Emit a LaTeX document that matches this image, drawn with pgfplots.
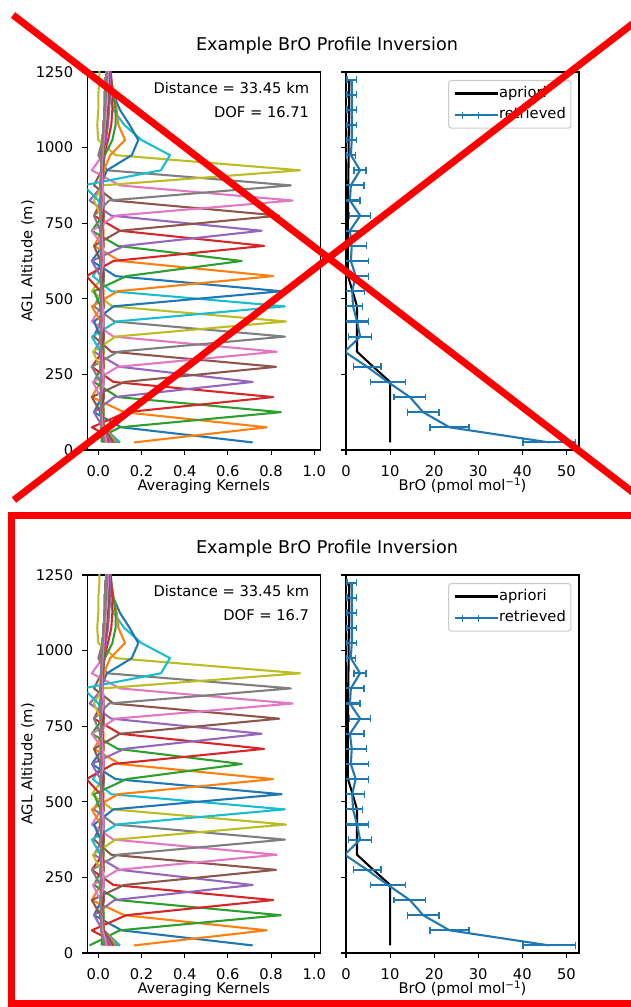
\documentclass[border=0pt]{standalone}
\usepackage{fontspec}
\setmainfont{DejaVu Sans}
\usepackage{pgfplots}
\usepackage{pgfplotstable}
\pgfplotsset{compat=1.18}
\definecolor{c0}{HTML}{1F77B4}
\definecolor{c1}{HTML}{FF7F0E}
\definecolor{c2}{HTML}{2CA02C}
\definecolor{c3}{HTML}{D62728}
\definecolor{c4}{HTML}{9467BD}
\definecolor{c5}{HTML}{8C564B}
\definecolor{c6}{HTML}{E377C2}
\definecolor{c7}{HTML}{7F7F7F}
\definecolor{c8}{HTML}{BCBD22}
\definecolor{c9}{HTML}{17BECF}
\definecolor{lgedge}{rgb}{0.8,0.8,0.8}
\newcommand\tickf{\fontsize{14.7bp}{17.6bp}\selectfont}
\newcommand\titlef{\fontsize{17.6bp}{21bp}\selectfont}
\newcommand\supm{\raisebox{0.33em}{\fontsize{10.3bp}{12bp}\selectfont −1}}

\pgfplotstableread{
alt x
25 10
75 10
125 10
175 10
225 10
275 6.2
325 2.5
375 2.5
425 2.5
475 2.5
525 1.5
575 0.45
625 0.4
675 0.4
725 0.4
775 0.45
825 0.5
875 0.5
925 0.55
975 0.6
1025 0.6
1075 0.65
1125 0.7
1175 0.7
1225 0.75
}\apriori

\pgfplotstableread{
alt x err
25 46.15 5.95
75 23.5 4.45
125 17.5 3.6
175 14.5 3.6
225 9.5 4.0
275 4.8 3.1
325 -0.3 0.25
375 3.2 2.65
425 2.5 2.6
475 1.6 2.1
525 1.4 2.75
575 2.2 2.9
625 1.1 3.95
675 1.3 3.4
725 0.9 3.2
775 3.2 2.4
825 0.9 2.3
875 1.1 2.95
925 3.2 1.36
975 1.1 1.0
1025 1.3 1.1
1075 1.3 1.1
1125 1.3 1.1
1175 1.3 1.1
1225 1.3 1.1
}\retrieved

\pgfplotsset{
  panel/.style={scale only axis, width=233bp, height=378bp, ymin=0, ymax=1250,
    ytick={0,250,500,750,1000,1250},
    tick align=outside, tick pos=left, major tick length=4.9bp,
    every tick/.style={black, line width=1.1bp},
    axis line style={black, line width=1.1bp},
    /pgf/number format/assume math mode=true,
    scaled ticks=false,
    tick label style={font=\tickf, inner sep=0bp},
    xticklabel style={anchor=north, yshift=-10.5bp},
    yticklabel style={anchor=east, xshift=-9bp},
    label style={font=\tickf, inner sep=0bp},
    xlabel style={at={(axis description cs:0.5,0)}, anchor=base, yshift=-40.8bp},
  },
  kern/.style={line width=2.08bp, line join=round},
}

\newcommand\kernels{%
\addplot[c0,kern] coordinates {(0.715,25)(0.108,75)(-0.02,125)(0.015,175)(0.02,225)(0.01,275)(0.015,325)(0.02,375)(0.025,425)(0.01,475)(0.015,525)(0.02,575)(0.025,625)(0.01,675)(0.015,725)(0.02,775)(0.025,825)(0.01,875)(0.015,925)(0.02,975)(0.02,1025)(0.025,1075)(0.03,1125)(0.03,1175)(0.035,1225)(0.035,1275)};
\addplot[c1,kern] coordinates {(0.165,25)(0.78,75)(0.12,125)(-0.03,175)(0.01,225)(0.02,275)(0.025,325)(0.01,375)(0.015,425)(0.02,475)(0.025,525)(0.01,575)(0.015,625)(0.02,675)(0.025,725)(0.01,775)(0.015,825)(0.02,875)(0.025,925)(0.02,975)(0.025,1025)(0.03,1075)(0.03,1125)(0.035,1175)(0.04,1225)(0.04,1275)};
\addplot[c2,kern] coordinates {(-0.04,25)(0.10,75)(0.845,125)(0.09,175)(-0.02,225)(0.015,275)(0.02,325)(0.025,375)(0.01,425)(0.015,475)(0.02,525)(0.025,575)(0.01,625)(0.015,675)(0.02,725)(0.025,775)(0.01,825)(0.015,875)(0.02,925)(0.025,975)(0.02,1025)(0.025,1075)(0.03,1125)(0.035,1175)(0.035,1225)(0.04,1275)};
\addplot[c3,kern] coordinates {(0.10,25)(-0.03,75)(0.13,125)(0.81,175)(0.07,225)(-0.03,275)(0.02,325)(0.025,375)(0.01,425)(0.015,475)(0.02,525)(0.025,575)(0.01,625)(0.015,675)(0.02,725)(0.025,775)(0.01,825)(0.015,875)(0.02,925)(0.02,975)(0.025,1025)(0.03,1075)(0.03,1125)(0.035,1175)(0.04,1225)(0.04,1275)};
\addplot[c4,kern] coordinates {(0.09,25)(0.02,75)(-0.02,125)(0.075,175)(0.715,225)(0.10,275)(-0.02,325)(0.02,375)(0.025,425)(0.01,475)(0.015,525)(0.02,575)(0.025,625)(0.01,675)(0.015,725)(0.02,775)(0.025,825)(0.01,875)(0.015,925)(0.02,975)(0.02,1025)(0.025,1075)(0.03,1125)(0.035,1175)(0.035,1225)(0.04,1275)};
\addplot[c5,kern] coordinates {(0.08,25)(0.025,75)(0.01,125)(-0.03,175)(0.12,225)(0.823,275)(0.06,325)(-0.02,375)(0.01,425)(0.015,475)(0.02,525)(0.025,575)(0.01,625)(0.015,675)(0.02,725)(0.025,775)(0.01,825)(0.015,875)(0.02,925)(0.025,975)(0.02,1025)(0.025,1075)(0.03,1125)(0.03,1175)(0.035,1225)(0.04,1275)};
\addplot[c6,kern] coordinates {(0.07,25)(0.02,75)(0.015,125)(0.01,175)(-0.025,225)(0.09,275)(0.826,325)(0.07,375)(-0.03,425)(0.015,475)(0.02,525)(0.025,575)(0.01,625)(0.015,675)(0.02,725)(0.025,775)(0.01,825)(0.015,875)(0.02,925)(0.025,975)(0.025,1025)(0.03,1075)(0.03,1125)(0.035,1175)(0.04,1225)(0.04,1275)};
\addplot[c7,kern] coordinates {(0.10,25)(0.025,75)(0.02,125)(0.015,175)(0.01,225)(-0.03,275)(0.09,325)(0.864,375)(0.075,425)(-0.02,475)(0.02,525)(0.025,575)(0.01,625)(0.015,675)(0.02,725)(0.025,775)(0.01,825)(0.015,875)(0.02,925)(0.02,975)(0.025,1025)(0.03,1075)(0.03,1125)(0.035,1175)(0.035,1225)(0.04,1275)};
\addplot[c8,kern] coordinates {(0.06,25)(0.02,75)(0.025,125)(0.02,175)(0.015,225)(0.01,275)(-0.025,325)(0.08,375)(0.869,425)(0.065,475)(-0.03,525)(0.02,575)(0.025,625)(0.01,675)(0.015,725)(0.02,775)(0.025,825)(0.01,875)(0.015,925)(0.02,975)(0.02,1025)(0.025,1075)(0.03,1125)(0.035,1175)(0.035,1225)(0.04,1275)};
\addplot[c9,kern] coordinates {(0.05,25)(0.025,75)(0.01,125)(0.025,175)(0.02,225)(0.015,275)(0.01,325)(-0.03,375)(0.085,425)(0.864,475)(0.06,525)(-0.025,575)(0.02,625)(0.015,675)(0.02,725)(0.025,775)(0.01,825)(0.015,875)(0.02,925)(0.025,975)(0.02,1025)(0.025,1075)(0.03,1125)(0.03,1175)(0.035,1225)(0.04,1275)};
\addplot[c0,kern] coordinates {(0.085,25)(0.02,75)(0.015,125)(0.01,175)(0.025,225)(0.02,275)(0.015,325)(0.01,375)(-0.02,425)(0.07,475)(0.849,525)(0.08,575)(-0.03,625)(0.02,675)(0.015,725)(0.02,775)(0.025,825)(0.01,875)(0.015,925)(0.02,975)(0.025,1025)(0.025,1075)(0.03,1125)(0.035,1175)(0.035,1225)(0.04,1275)};
\addplot[c1,kern] coordinates {(0.04,25)(0.025,75)(0.02,125)(0.015,175)(0.01,225)(0.025,275)(0.02,325)(0.015,375)(0.01,425)(-0.03,475)(0.09,525)(0.81,575)(0.10,625)(-0.02,675)(0.02,725)(0.025,775)(0.01,825)(0.015,875)(0.02,925)(0.025,975)(0.02,1025)(0.025,1075)(0.03,1125)(0.03,1175)(0.035,1225)(0.04,1275)};
\addplot[c2,kern] coordinates {(0.075,25)(0.02,75)(0.025,125)(0.02,175)(0.015,225)(0.01,275)(0.025,325)(0.02,375)(0.015,425)(0.01,475)(-0.02,525)(0.13,575)(0.664,625)(0.09,675)(-0.03,725)(0.02,775)(0.025,825)(0.01,875)(0.015,925)(0.02,975)(0.025,1025)(0.025,1075)(0.03,1125)(0.035,1175)(0.035,1225)(0.04,1275)};
\addplot[c3,kern] coordinates {(0.03,25)(0.025,75)(0.01,125)(0.025,175)(0.02,225)(0.015,275)(0.01,325)(0.025,375)(0.02,425)(0.015,475)(0.01,525)(-0.055,575)(0.07,625)(0.768,675)(0.10,725)(-0.02,775)(0.015,825)(0.02,875)(0.025,925)(0.01,975)(0.02,1025)(0.025,1075)(0.03,1125)(0.03,1175)(0.035,1225)(0.04,1275)};
\addplot[c4,kern] coordinates {(0.065,25)(0.02,75)(0.015,125)(0.01,175)(0.025,225)(0.02,275)(0.015,325)(0.01,375)(0.025,425)(0.02,475)(0.015,525)(0.01,575)(-0.03,625)(0.12,675)(0.756,725)(0.06,775)(-0.04,825)(0.02,875)(0.025,925)(0.015,975)(0.02,1025)(0.025,1075)(0.03,1125)(0.035,1175)(0.035,1225)(0.04,1275)};
\addplot[c5,kern] coordinates {(0.02,25)(0.025,75)(0.02,125)(0.015,175)(0.01,225)(0.025,275)(0.02,325)(0.015,375)(0.01,425)(0.025,475)(0.02,525)(0.015,575)(0.01,625)(-0.02,675)(0.10,725)(0.838,775)(0.07,825)(-0.02,875)(0.015,925)(0.02,975)(0.025,1025)(0.025,1075)(0.03,1125)(0.03,1175)(0.035,1225)(0.04,1275)};
\addplot[c6,kern] coordinates {(0.055,25)(0.02,75)(0.015,125)(0.01,175)(0.025,225)(0.02,275)(0.015,325)(0.01,375)(0.025,425)(0.02,475)(0.015,525)(0.01,575)(0.025,625)(0.02,675)(-0.03,725)(0.08,775)(0.90,825)(0.10,875)(-0.03,925)(0.02,975)(0.02,1025)(0.025,1075)(0.03,1125)(0.035,1175)(0.035,1225)(0.04,1275)};
\addplot[c7,kern] coordinates {(0.045,25)(0.025,75)(0.01,125)(0.025,175)(0.02,225)(0.015,275)(0.01,325)(0.025,375)(0.02,425)(0.015,475)(0.01,525)(0.025,575)(0.02,625)(0.015,675)(0.01,725)(-0.02,775)(0.05,825)(0.892,875)(0.04,925)(0.0,975)(0.02,1025)(0.025,1075)(0.03,1125)(0.03,1175)(0.035,1225)(0.04,1275)};
\addplot[c8,kern] coordinates {(0.035,25)(0.02,75)(0.015,125)(0.01,175)(0.025,225)(0.02,275)(0.015,325)(0.01,375)(0.025,425)(0.02,475)(0.015,525)(0.01,575)(0.025,625)(0.02,675)(0.015,725)(0.01,775)(-0.02,825)(0.02,875)(0.934,925)(0.08,975)(0.0,1025)(-0.005,1075)(0.0,1125)(0.0,1175)(0.005,1225)(0.005,1275)};
\addplot[c9,kern] coordinates {(0.095,25)(0.02,75)(0.015,125)(0.025,175)(0.02,225)(0.015,275)(0.01,325)(0.025,375)(0.02,425)(0.015,475)(0.01,525)(0.025,575)(0.02,625)(0.015,675)(0.01,725)(0.025,775)(0.0,825)(-0.07,875)(0.29,925)(0.332,975)(0.2,1025)(0.12,1075)(0.07,1125)(0.05,1175)(0.04,1225)(0.035,1275)};
\addplot[c0,kern] coordinates {(0.025,25)(0.02,75)(0.015,125)(0.01,175)(0.025,225)(0.02,275)(0.015,325)(0.01,375)(0.025,425)(0.02,475)(0.015,525)(0.01,575)(0.025,625)(0.02,675)(0.015,725)(0.01,775)(0.02,825)(0.01,875)(0.04,925)(0.155,975)(0.185,1025)(0.145,1075)(0.10,1125)(0.07,1175)(0.055,1225)(0.045,1275)};
\addplot[c1,kern] coordinates {(0.08,25)(0.025,75)(0.02,125)(0.015,175)(0.01,225)(0.025,275)(0.02,325)(0.015,375)(0.01,425)(0.025,475)(0.02,525)(0.015,575)(0.01,625)(0.025,675)(0.02,725)(0.015,775)(0.01,825)(0.02,875)(0.025,925)(0.055,975)(0.124,1025)(0.093,1075)(0.085,1125)(0.07,1175)(0.06,1225)(0.05,1275)};
\addplot[c2,kern] coordinates {(0.015,25)(0.02,75)(0.015,125)(0.01,175)(0.025,225)(0.02,275)(0.015,325)(0.01,375)(0.025,425)(0.02,475)(0.015,525)(0.01,575)(0.025,625)(0.02,675)(0.015,725)(0.01,775)(0.025,825)(0.02,875)(0.02,925)(0.03,975)(0.065,1025)(0.08,1075)(0.08,1125)(0.07,1175)(0.06,1225)(0.055,1275)};
\addplot[c3,kern] coordinates {(0.05,25)(0.025,75)(0.01,125)(0.025,175)(0.02,225)(0.015,275)(0.01,325)(0.025,375)(0.02,425)(0.015,475)(0.01,525)(0.025,575)(0.02,625)(0.015,675)(0.01,725)(0.025,775)(0.02,825)(0.015,875)(0.02,925)(0.025,975)(0.045,1025)(0.06,1075)(0.065,1125)(0.065,1175)(0.06,1225)(0.055,1275)};
\addplot[c4,kern] coordinates {(0.06,25)(0.02,75)(0.015,125)(0.01,175)(0.025,225)(0.02,275)(0.015,325)(0.01,375)(0.025,425)(0.02,475)(0.015,525)(0.01,575)(0.025,625)(0.02,675)(0.015,725)(0.01,775)(0.025,825)(0.02,875)(0.02,925)(0.025,975)(0.035,1025)(0.045,1075)(0.05,1125)(0.055,1175)(0.055,1225)(0.05,1275)};
\addplot[c5,kern] coordinates {(0.07,25)(0.025,75)(0.02,125)(0.015,175)(0.01,225)(0.025,275)(0.02,325)(0.015,375)(0.01,425)(0.025,475)(0.02,525)(0.015,575)(0.01,625)(0.025,675)(0.02,725)(0.015,775)(0.01,825)(0.02,875)(0.02,925)(0.025,975)(0.03,1025)(0.04,1075)(0.045,1125)(0.05,1175)(0.05,1225)(0.05,1275)};
\addplot[c6,kern] coordinates {(0.04,25)(0.02,75)(0.015,125)(0.01,175)(0.025,225)(0.02,275)(0.015,325)(0.01,375)(0.025,425)(0.02,475)(0.015,525)(0.01,575)(0.025,625)(0.02,675)(0.015,725)(0.01,775)(0.025,825)(0.02,875)(0.015,925)(0.02,975)(0.025,1025)(0.03,1075)(0.035,1125)(0.04,1175)(0.045,1225)(0.045,1275)};
\addplot[c7,kern] coordinates {(0.03,25)(0.012,75)(0.012,125)(0.012,175)(0.012,225)(0.012,275)(0.012,325)(0.012,375)(0.012,425)(0.012,475)(0.012,525)(0.012,575)(0.012,625)(0.012,675)(0.012,725)(0.012,775)(0.012,825)(0.012,875)(0.012,925)(0.015,975)(0.02,1025)(0.025,1075)(0.03,1125)(0.035,1175)(0.04,1225)(0.04,1275)};
}

\newcommand\leftpanel[2]{%
\begin{axis}[panel, at={(87.3bp,#1)}, anchor=south west,
  xmin=-0.051, xmax=1.028,
  xtick={0,0.2,0.4,0.6,0.8,1.0}, xticklabels={0.0,0.2,0.4,0.6,0.8,1.0},
  yticklabels={0,250,500,750,1000,1250},
  xlabel={Averaging Kernels}, ylabel={AGL Altitude (m)},
  ylabel style={at={(axis description cs:-0.236,0.5)}, anchor=base},
]
\kernels
\node[anchor=base east, font=\tickf, inner sep=0bp, xshift=-11bp, yshift=-21.5bp] at (axis description cs:1,1) {Distance = 33.45 km};
\node[anchor=base east, font=\tickf, inner sep=0bp, xshift=-11bp, yshift=-46bp] at (axis description cs:1,1) {DOF = #2};
\end{axis}}

\newcommand\rightpanel[1]{%
\begin{axis}[panel, at={(346bp,#1)}, anchor=south west,
  xmin=0, xmax=52.87,
  xtick={0,10,20,30,40,50}, xticklabels={0,10,20,30,40,50},
  yticklabels={},
  xlabel={BrO (pmol mol\supm)},
  legend cell align=left,
  legend style={at={(1,1)}, anchor=north east, xshift=-7.6bp, yshift=-8bp,
    draw=lgedge, line width=1.1bp, rounded corners=2.8bp, fill=white,
    fill opacity=0.8, text opacity=1, inner xsep=5bp, inner ysep=5.6bp,
    font=\tickf, row sep=7bp,
    nodes={inner sep=0bp, text height=11bp, text depth=3.7bp}},
]
\addplot[black, kern, legend image code/.code={\draw[black, line width=2.08bp] (0bp,0bp) -- (31.4bp,0bp); \path (0bp,0bp) -- (43.4bp,0bp);}] table[x=x, y=alt] {\apriori};
\addlegendentry{apriori}
\addplot[c0, kern, legend image code/.code={\draw[c0, line width=2.08bp] (0bp,0bp) -- (31.4bp,0bp); \draw[c0, line width=1.4bp] (7.8bp,-3.4bp) -- (7.8bp,3.4bp); \draw[c0, line width=1.4bp] (23.6bp,-3.4bp) -- (23.6bp,3.4bp); \path (0bp,0bp) -- (43.4bp,0bp);},
  error bars/.cd, x dir=both, x explicit,
  error bar style={c0, line width=2.08bp},
  error mark options={rotate=90, c0, mark size=3.4bp, line width=1.4bp}]
  table[x=x, y=alt, x error=err] {\retrieved};
\addlegendentry{retrieved}
\end{axis}}

\begin{document}
\begin{tikzpicture}
\useasboundingbox (0bp,0bp) rectangle (631bp,1007bp);
\clip (0bp,0bp) rectangle (631bp,1007bp);
\fill[white] (0bp,0bp) rectangle (631bp,1007bp);
% top copy
\node[font=\titlef, anchor=base] at (327bp,956bp) {Example BrO Profile Inversion};
\leftpanel{557bp}{16.71}
\rightpanel{557bp}
% bottom copy
\node[font=\titlef, anchor=base] at (327bp,453bp) {Example BrO Profile Inversion};
\leftpanel{54bp}{16.7}
\rightpanel{54bp}
% red marks
\draw[red, line width=7bp, line cap=butt] (13bp,992bp) -- (700bp,463bp);
\draw[red, line width=7bp, line cap=butt] (14bp,507bp) -- (700bp,1035bp);
\draw[red, line width=7bp] (11.7bp,491.7bp) rectangle (700bp,3.5bp);
\end{tikzpicture}
\end{document}
